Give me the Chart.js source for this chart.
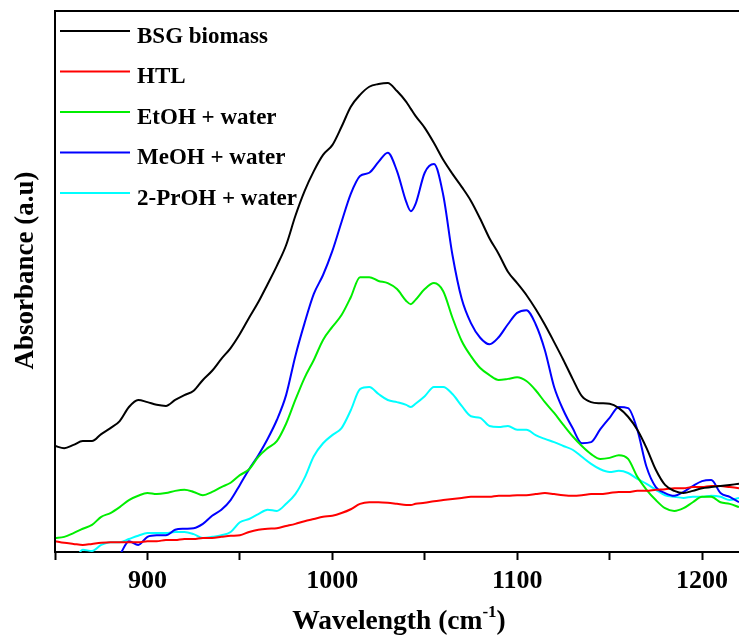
<!DOCTYPE html>
<html>
<head>
<meta charset="utf-8">
<script src="https://cdn.jsdelivr.net/npm/chart.js@4.4.1/dist/chart.umd.min.js"></script>
<style>
  html, body { margin: 0; padding: 0; background: #fff; }
  canvas { display: block; }
</style>
</head>
<body>
<canvas id="ftir" width="739" height="636"></canvas>
<script>
// Wavenumber grid (cm-1)
const wavenumbers = [
  850, 855, 860, 865, 870, 875, 880, 885, 890, 895,
  900, 905, 910, 915, 920, 925, 930, 935, 940, 945,
  950, 955, 960, 965, 970, 975, 980, 985, 990, 995,
  1000, 1005, 1010, 1015, 1020, 1025, 1030, 1035, 1040, 1042.5, 1045,
  1050, 1055, 1060, 1065, 1070, 1075, 1080, 1085, 1090, 1095,
  1100, 1105, 1110, 1115, 1120, 1125, 1130, 1135, 1140, 1145,
  1150, 1155, 1160, 1165, 1170, 1175, 1180, 1185, 1190, 1195,
  1200, 1205, 1210, 1215, 1220
];

// Absorbance (a.u) of each sample
const bsgBiomass = [
  0.196, 0.192, 0.198, 0.205, 0.205, 0.218, 0.229, 0.242, 0.268, 0.281,
  0.277, 0.272, 0.270, 0.281, 0.290, 0.298, 0.318, 0.335, 0.357, 0.377,
  0.403, 0.433, 0.462, 0.495, 0.529, 0.567, 0.621, 0.667, 0.704, 0.734,
  0.752, 0.786, 0.823, 0.845, 0.860, 0.865, 0.867, 0.852, 0.832, 0.819, 0.806,
  0.784, 0.756, 0.725, 0.699, 0.675, 0.649, 0.616, 0.580, 0.551, 0.518,
  0.497, 0.475, 0.449, 0.420, 0.388, 0.355, 0.320, 0.288, 0.277, 0.275,
  0.274, 0.266, 0.250, 0.226, 0.192, 0.152, 0.124, 0.113, 0.109, 0.113,
  0.118, 0.120, 0.122, 0.124, 0.126
];
const htl = [
  0.020, 0.017, 0.015, 0.013, 0.015, 0.017, 0.018, 0.018, 0.018, 0.018,
  0.020, 0.020, 0.022, 0.022, 0.024, 0.024, 0.026, 0.026, 0.028, 0.030,
  0.031, 0.037, 0.041, 0.043, 0.044, 0.048, 0.052, 0.057, 0.061, 0.065,
  0.067, 0.072, 0.079, 0.089, 0.092, 0.092, 0.091, 0.089, 0.087, 0.087, 0.089,
  0.091, 0.094, 0.096, 0.098, 0.100, 0.102, 0.102, 0.102, 0.104, 0.104,
  0.105, 0.105, 0.107, 0.109, 0.107, 0.105, 0.104, 0.105, 0.107, 0.107,
  0.109, 0.111, 0.111, 0.113, 0.113, 0.115, 0.116, 0.118, 0.118, 0.120,
  0.120, 0.122, 0.122, 0.120, 0.118
];
const etohWater = [
  0.026, 0.028, 0.035, 0.043, 0.050, 0.065, 0.072, 0.083, 0.096, 0.104,
  0.109, 0.107, 0.109, 0.113, 0.115, 0.111, 0.105, 0.111, 0.120, 0.128,
  0.142, 0.153, 0.176, 0.192, 0.205, 0.237, 0.281, 0.322, 0.355, 0.392,
  0.416, 0.438, 0.471, 0.508, 0.508, 0.501, 0.497, 0.486, 0.464, 0.458, 0.466,
  0.486, 0.497, 0.482, 0.433, 0.390, 0.362, 0.340, 0.327, 0.318, 0.320,
  0.323, 0.316, 0.299, 0.277, 0.257, 0.235, 0.214, 0.196, 0.181, 0.172,
  0.174, 0.179, 0.172, 0.139, 0.115, 0.096, 0.081, 0.076, 0.081, 0.092,
  0.102, 0.102, 0.092, 0.089, 0.083
];
const meohWater = [
  -0.060, -0.060, -0.050, -0.050, -0.040, -0.030, -0.020, -0.005, 0.020, 0.013,
  0.028, 0.031, 0.031, 0.041, 0.043, 0.044, 0.052, 0.067, 0.078, 0.096,
  0.124, 0.153, 0.179, 0.209, 0.244, 0.290, 0.362, 0.423, 0.477, 0.512,
  0.556, 0.610, 0.662, 0.695, 0.701, 0.721, 0.738, 0.704, 0.647, 0.630, 0.643,
  0.701, 0.717, 0.660, 0.549, 0.468, 0.423, 0.396, 0.384, 0.397, 0.421,
  0.442, 0.447, 0.421, 0.373, 0.305, 0.262, 0.229, 0.201, 0.203, 0.227,
  0.248, 0.268, 0.266, 0.226, 0.157, 0.120, 0.109, 0.104, 0.111, 0.122,
  0.131, 0.133, 0.109, 0.102, 0.092
];
const prohWater = [
  -0.050, -0.040, -0.020, 0.004, 0.002, 0.013, 0.018, 0.018, 0.024, 0.030,
  0.035, 0.035, 0.035, 0.037, 0.037, 0.033, 0.026, 0.028, 0.031, 0.037,
  0.055, 0.061, 0.070, 0.078, 0.076, 0.089, 0.107, 0.137, 0.177, 0.201,
  0.216, 0.229, 0.262, 0.301, 0.305, 0.292, 0.281, 0.277, 0.272, 0.268, 0.274,
  0.288, 0.305, 0.305, 0.292, 0.270, 0.251, 0.248, 0.233, 0.231, 0.233,
  0.226, 0.226, 0.216, 0.209, 0.203, 0.196, 0.189, 0.176, 0.163, 0.153,
  0.148, 0.150, 0.146, 0.135, 0.126, 0.115, 0.105, 0.102, 0.100, 0.102,
  0.102, 0.104, 0.102, 0.096, 0.100
];

const seriesNames = ['BSG biomass', 'HTL', 'EtOH + water', 'MeOH + water', '2-PrOH + water'];
const seriesValues = [bsgBiomass, htl, etohWater, meohWater, prohWater];
const seriesColors = ['#000000', '#ff0000', '#00ee00', '#0000ff', '#00ffff'];

const SERIF = '"Liberation Serif", "Times New Roman", Times, serif';

const datasets = seriesNames.map((name, i) => ({
  label: name,
  data: wavenumbers.map((w, k) => ({ x: w, y: seriesValues[i][k] })),
  borderColor: seriesColors[i],
  backgroundColor: seriesColors[i],
  borderWidth: 2,
  pointRadius: 0,
  cubicInterpolationMode: 'monotone',
  fill: false
}));

// Frame, axis titles and legend drawn on top of the plot
const decorations = {
  id: 'decorations',
  afterDraw(chart) {
    const { ctx, chartArea: a } = chart;
    ctx.save();

    // left and top frame lines
    ctx.strokeStyle = '#000';
    ctx.lineWidth = 2;
    ctx.beginPath();
    ctx.moveTo(a.left, a.bottom + 1);
    ctx.lineTo(a.left, a.top);
    ctx.lineTo(a.right + 2, a.top);
    ctx.stroke();

    ctx.fillStyle = '#000';

    // y-axis title
    ctx.save();
    ctx.font = 'bold 27px ' + SERIF;
    ctx.translate(33, (a.top + a.bottom) / 2 - 11);
    ctx.rotate(-Math.PI / 2);
    ctx.textAlign = 'center';
    ctx.textBaseline = 'alphabetic';
    ctx.fillText('Absorbance (a.u)', 0, 0);
    ctx.restore();

    // x-axis title with superscript
    const main = 'bold 27.5px ' + SERIF;
    const sup = 'bold 17px ' + SERIF;
    ctx.textBaseline = 'alphabetic';
    ctx.textAlign = 'left';
    ctx.font = main;
    const p1 = 'Wavelength (cm', p3 = ')';
    const w1 = ctx.measureText(p1).width, w3 = ctx.measureText(p3).width;
    ctx.font = sup;
    const p2 = '-1';
    const w2 = ctx.measureText(p2).width;
    const total = w1 + w2 + w3;
    let x = (a.left + a.right) / 2 + 2 - total / 2;
    const base = 629;
    ctx.font = main; ctx.fillText(p1, x, base); x += w1;
    ctx.font = sup; ctx.fillText(p2, x, base - 12); x += w2;
    ctx.font = main; ctx.fillText(p3, x, base);

    // legend
    ctx.font = 'bold 23px ' + SERIF;
    chart.data.datasets.forEach((ds, i) => {
      const y = a.top + 20 + i * 40.5;
      ctx.strokeStyle = ds.borderColor;
      ctx.lineWidth = 2;
      ctx.beginPath();
      ctx.moveTo(a.left + 5, y);
      ctx.lineTo(a.left + 75, y);
      ctx.stroke();
      ctx.fillText(ds.label, a.left + 82, y + 11.5);
    });

    ctx.restore();
  }
};

new Chart(document.getElementById('ftir'), {
  type: 'line',
  data: { datasets },
  options: {
    responsive: false,
    animation: false,
    devicePixelRatio: 1,
    layout: { padding: { left: 55, top: 11, right: 0, bottom: 0 } },
    plugins: { legend: { display: false }, tooltip: { enabled: false } },
    scales: {
      x: {
        type: 'linear',
        min: 850,
        max: 1220,
        afterFit(scale) { scale.height = 84; },
        border: { display: true, color: '#000', width: 2 },
        grid: {
          display: true,
          drawOnChartArea: false,
          drawTicks: true,
          tickLength: 8,
          tickColor: '#000',
          tickWidth: 2
        },
        ticks: {
          stepSize: 50,
          includeBounds: false,
          autoSkip: false,
          maxRotation: 0,
          padding: 6,
          color: '#000',
          font: { family: SERIF, size: 26, weight: 'bold' },
          callback: (v) => (v % 100 === 0 ? String(v) : '')
        },
        title: { display: false }
      },
      y: {
        display: false,
        min: 0,
        max: 1
      }
    }
  },
  plugins: [decorations]
});
</script>
</body>
</html>
